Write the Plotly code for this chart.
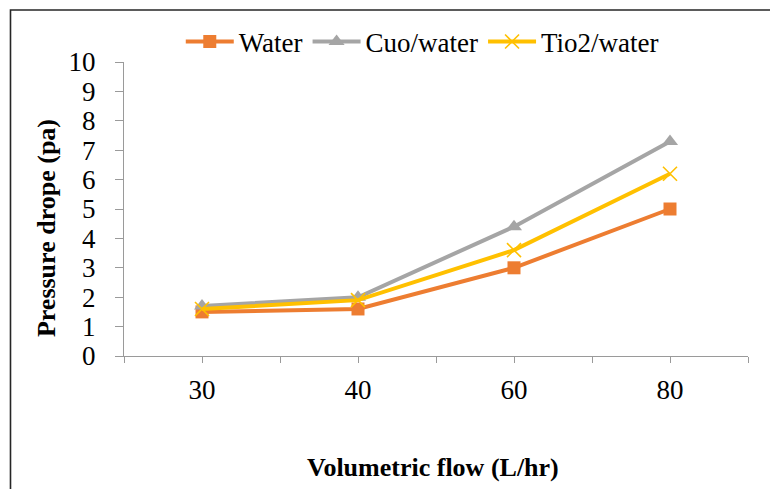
import plotly.graph_objects as go

# Volumetric flow categories (L/hr) and measured pressure drop (pa)
flow = ["30", "40", "60", "80"]
water = [1.5, 1.6, 3.0, 5.0]
cuo_water = [1.7, 2.0, 4.4, 7.3]
tio2_water = [1.6, 1.9, 3.6, 6.2]

y_ticks = list(range(0, 11))

FONT = "Times New Roman, Liberation Serif, Times, serif"
AXIS_GRAY = "#9A9A9A"

fig = go.Figure()

fig.add_trace(go.Scatter(
    x=flow, y=water, name="Water", mode="lines+markers",
    line=dict(color="#ED7D31", width=4),
    marker=dict(symbol="square", size=13, color="#ED7D31"),
))
fig.add_trace(go.Scatter(
    x=flow, y=cuo_water, name="Cuo/water", mode="lines+markers",
    line=dict(color="#A5A5A5", width=4),
    marker=dict(symbol="triangle-up", size=14, color="#A5A5A5"),
))
fig.add_trace(go.Scatter(
    x=flow, y=tio2_water, name="Tio2/water", mode="lines+markers",
    line=dict(color="#FFC000", width=4),
    marker=dict(symbol="x-thin", size=14, color="#FFC000",
                line=dict(color="#FFC000", width=1.6)),
))
# helper trace so the overlay axis gets tick marks under each category label
fig.add_trace(go.Scatter(
    x=flow, y=water, xaxis="x2", mode="markers", showlegend=False,
    hoverinfo="skip", marker=dict(opacity=0),
))

fig.update_layout(
    width=770, height=489,
    margin=dict(l=124, r=22, t=62, b=133),
    paper_bgcolor="white", plot_bgcolor="white",
    font=dict(family=FONT, size=27, color="black"),
    showlegend=True,
    legend=dict(
        orientation="h", x=0.478, xanchor="center", y=1.068, yanchor="middle",
        font=dict(family=FONT, size=27, color="black"),
        bgcolor="rgba(0,0,0,0)", itemwidth=48, tracegroupgap=0,
    ),
    xaxis=dict(
        type="category", categoryorder="array", categoryarray=flow,
        range=[-0.5, 3.5], tickson="boundaries",
        showline=True, linecolor=AXIS_GRAY, linewidth=1.2,
        ticks="outside", ticklen=6, tickcolor=AXIS_GRAY, tickwidth=1.2,
        showgrid=False, zeroline=False, ticklabelstandoff=9,
        tickfont=dict(family=FONT, size=27, color="black"),
    ),
    xaxis2=dict(
        type="category", categoryorder="array", categoryarray=flow,
        overlaying="x", anchor="y", side="bottom", range=[-0.5, 3.5],
        showline=False, showgrid=False, zeroline=False,
        ticks="outside", ticklen=6, tickcolor=AXIS_GRAY, tickwidth=1.2,
        showticklabels=False,
    ),
    yaxis=dict(
        range=[0, 10], tickvals=y_ticks,
        showline=True, linecolor=AXIS_GRAY, linewidth=1.2,
        ticks="outside", ticklen=8, tickcolor=AXIS_GRAY, tickwidth=1.2,
        showgrid=False, zeroline=False, ticklabelstandoff=14,
        tickfont=dict(family=FONT, size=27, color="black"),
    ),
    annotations=[
        dict(text="<b>Pressure drope (pa)</b>", xref="paper", yref="paper",
             x=-0.125, y=0.435, xanchor="center", yanchor="middle",
             textangle=-90, showarrow=False,
             font=dict(family=FONT, size=26, color="black")),
        dict(text="<b>Volumetric flow (L/hr)</b>", xref="paper", yref="paper",
             x=0.495, y=-0.378, xanchor="center", yanchor="middle",
             showarrow=False,
             font=dict(family=FONT, size=26, color="black")),
    ],
    shapes=[
        # chart-area border
        dict(type="rect", xref="paper", yref="paper",
             x0=-0.1819, x1=1.06, y0=-0.5, y1=1.1769,
             line=dict(color="#262626", width=1.6), fillcolor="rgba(0,0,0,0)",
             layer="below"),
    ],
)

fig.write_html("out.html")
